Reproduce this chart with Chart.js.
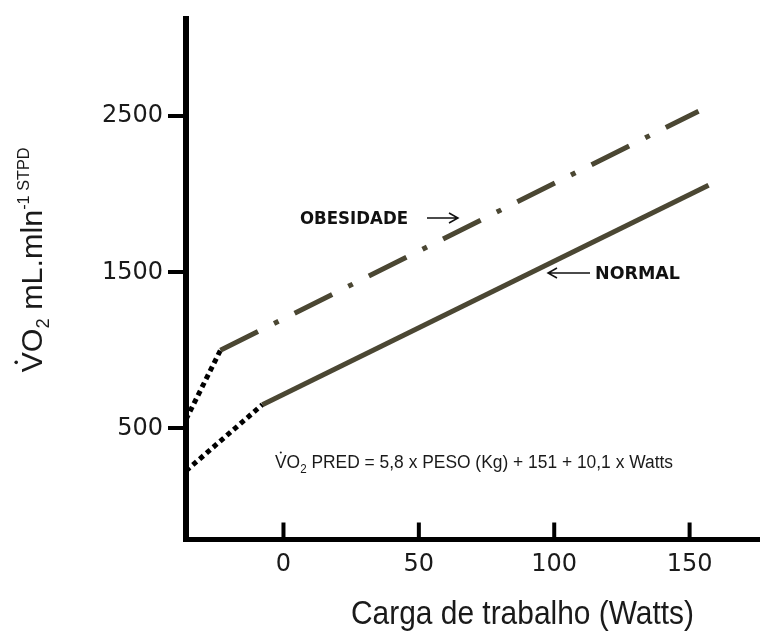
<!DOCTYPE html>
<html>
<head>
<meta charset="utf-8">
<script src="https://cdn.jsdelivr.net/npm/chart.js@4.4.0/dist/chart.umd.min.js"></script>
<style>
  html, body { margin: 0; padding: 0; background: #fff; }
</style>
</head>
<body>
<canvas id="myChart" width="760" height="632"></canvas>
<script>
// values
const xTicks = [0, 50, 100, 150];
const xTickLabels = ['0', '50', '100', '150'];
const yTicks = [500, 1500, 2500];
const yTickLabels = ['500', '1500', '2500'];
const obesidadeWatts = [-36, -23.3, 153.3];
const obesidadeVO2 = [557, 1000, 2532];
const normalWatts = [-36, -7.8, 157];
const normalVO2 = [228, 652, 2057];

const olive = '#4b4733';
const ink = '#1a1a1a';

// draws a run of text pieces (sub/superscripts), squeezed to a given width
function richText(ctx, parts, x, y, opts) {
  ctx.save();
  ctx.translate(x, y);
  if (opts.rot) ctx.rotate(opts.rot);
  let total = 0;
  parts.forEach(p => {
    ctx.font = (p.bold ? 'bold ' : '') + p.size + 'px ' + (p.family || 'Liberation Sans');
    p.w = ctx.measureText(p.t).width;
    total += p.w;
  });
  const sx = opts.width ? opts.width / total : 1;
  ctx.scale(sx, 1);
  let cx = opts.align === 'center' ? -total / 2 : 0;
  ctx.fillStyle = opts.color || ink;
  ctx.textBaseline = 'alphabetic';
  ctx.textAlign = 'left';
  parts.forEach(p => {
    ctx.font = (p.bold ? 'bold ' : '') + p.size + 'px ' + (p.family || 'Liberation Sans');
    ctx.fillText(p.t, cx, p.dy || 0);
    if (p.dot) {
      // dot over the V
      const vw = ctx.measureText('V').width;
      ctx.beginPath();
      ctx.arc(cx + vw / 2, -p.size * 0.86, p.size * 0.06, 0, Math.PI * 2);
      ctx.fill();
    }
    cx += p.w;
  });
  ctx.restore();
}

function arrow(ctx, x1, x2, y) {
  const d = x2 > x1 ? 1 : -1;
  ctx.beginPath();
  ctx.moveTo(x1, y);
  ctx.lineTo(x2, y);
  ctx.moveTo(x2 - d * 9, y - 5);
  ctx.lineTo(x2, y);
  ctx.lineTo(x2 - d * 9, y + 5);
  ctx.stroke();
}

const extras = {
  id: 'extras',
  afterDraw(chart) {
    const ctx = chart.ctx;
    const xs = chart.scales.x;
    const bottom = chart.chartArea.bottom;

    // x tick marks point up into the plot
    ctx.save();
    ctx.strokeStyle = '#000';
    ctx.lineWidth = 4;
    xTicks.forEach(v => {
      const px = xs.getPixelForValue(v);
      ctx.beginPath();
      ctx.moveTo(px, bottom + 1);
      ctx.lineTo(px, bottom - 17);
      ctx.stroke();
    });
    ctx.restore();

    // y title
    richText(ctx, [
      {t: 'VO', size: 30, dot: true},
      {t: '2', size: 18, dy: 7},
      {t: ' mL.mln', size: 30},
      {t: '-1 STPD', size: 16, dy: -13}
    ], 42, 260, {rot: -Math.PI / 2, align: 'center', width: 225});

    // x title
    richText(ctx, [{t: 'Carga de trabalho (Watts)', size: 34}], 351, 624, {width: 343});

    // formula
    richText(ctx, [
      {t: 'VO', size: 18, dot: true},
      {t: '2', size: 12, dy: 5},
      {t: ' PRED = 5,8 x PESO (Kg) + 151 + 10,1 x Watts', size: 18}
    ], 275, 468, {width: 398});

    // line labels
    richText(ctx, [{t: 'OBESIDADE', size: 17, bold: true, family: 'DejaVu Sans'}], 300, 224, {width: 108, color: '#111'});
    richText(ctx, [{t: 'NORMAL', size: 17, bold: true, family: 'DejaVu Sans'}], 595, 279, {width: 85, color: '#111'});

    ctx.save();
    ctx.strokeStyle = '#111';
    ctx.lineWidth = 1.5;
    arrow(ctx, 427, 458, 218);
    arrow(ctx, 590, 548, 273);
    ctx.restore();
  }
};

const ctx = document.getElementById('myChart').getContext('2d');
const myChart = new Chart(ctx, {
  type: 'line',
  data: {
    datasets: [{
      label: 'OBESIDADE',
      data: obesidadeWatts.map((w, i) => ({x: w, y: obesidadeVO2[i]})),
      borderColor: olive,
      borderWidth: 5,
      borderCapStyle: 'butt',
      pointRadius: 0,
      tension: 0,
      segment: {
        borderColor: c => c.p0DataIndex === 0 ? '#000' : olive,
        borderDash: c => c.p0DataIndex === 0 ? [5, 4] : [42, 18, 5, 18]
      }
    }, {
      label: 'NORMAL',
      data: normalWatts.map((w, i) => ({x: w, y: normalVO2[i]})),
      borderColor: olive,
      borderWidth: 5,
      borderCapStyle: 'butt',
      pointRadius: 0,
      tension: 0,
      segment: {
        borderColor: c => c.p0DataIndex === 0 ? '#000' : olive,
        borderDash: c => c.p0DataIndex === 0 ? [5, 4] : []
      }
    }]
  },
  options: {
    responsive: false,
    animation: false,
    layout: { padding: { top: 13, left: 0, right: 0, bottom: 0 } },
    plugins: { legend: { display: false }, tooltip: { enabled: false } },
    scales: {
      x: {
        type: 'linear',
        min: -36,
        max: 176,
        afterBuildTicks: s => { s.ticks = xTicks.map(v => ({value: v})); },
        afterFit: s => { s.height = 92.5; },
        grid: { display: false, drawTicks: false },
        border: { display: true, color: '#000', width: 5 },
        ticks: {
          padding: 11, color: ink, font: { family: 'DejaVu Sans', size: 24 },
          callback: (v, i) => xTickLabels[i]
        }
      },
      y: {
        min: -212,
        max: 3120,
        afterBuildTicks: s => { s.ticks = yTicks.map(v => ({value: v})); },
        afterFit: s => { s.width = 186; },
        grid: { display: true, drawOnChartArea: false, drawTicks: true, tickLength: 18, lineWidth: 4, color: '#000' },
        border: { display: true, color: '#000', width: 6 },
        ticks: {
          padding: 5, color: ink, font: { family: 'DejaVu Sans', size: 24 },
          callback: (v, i) => yTickLabels[i]
        }
      }
    }
  },
  plugins: [extras]
});
</script>
</body>
</html>
